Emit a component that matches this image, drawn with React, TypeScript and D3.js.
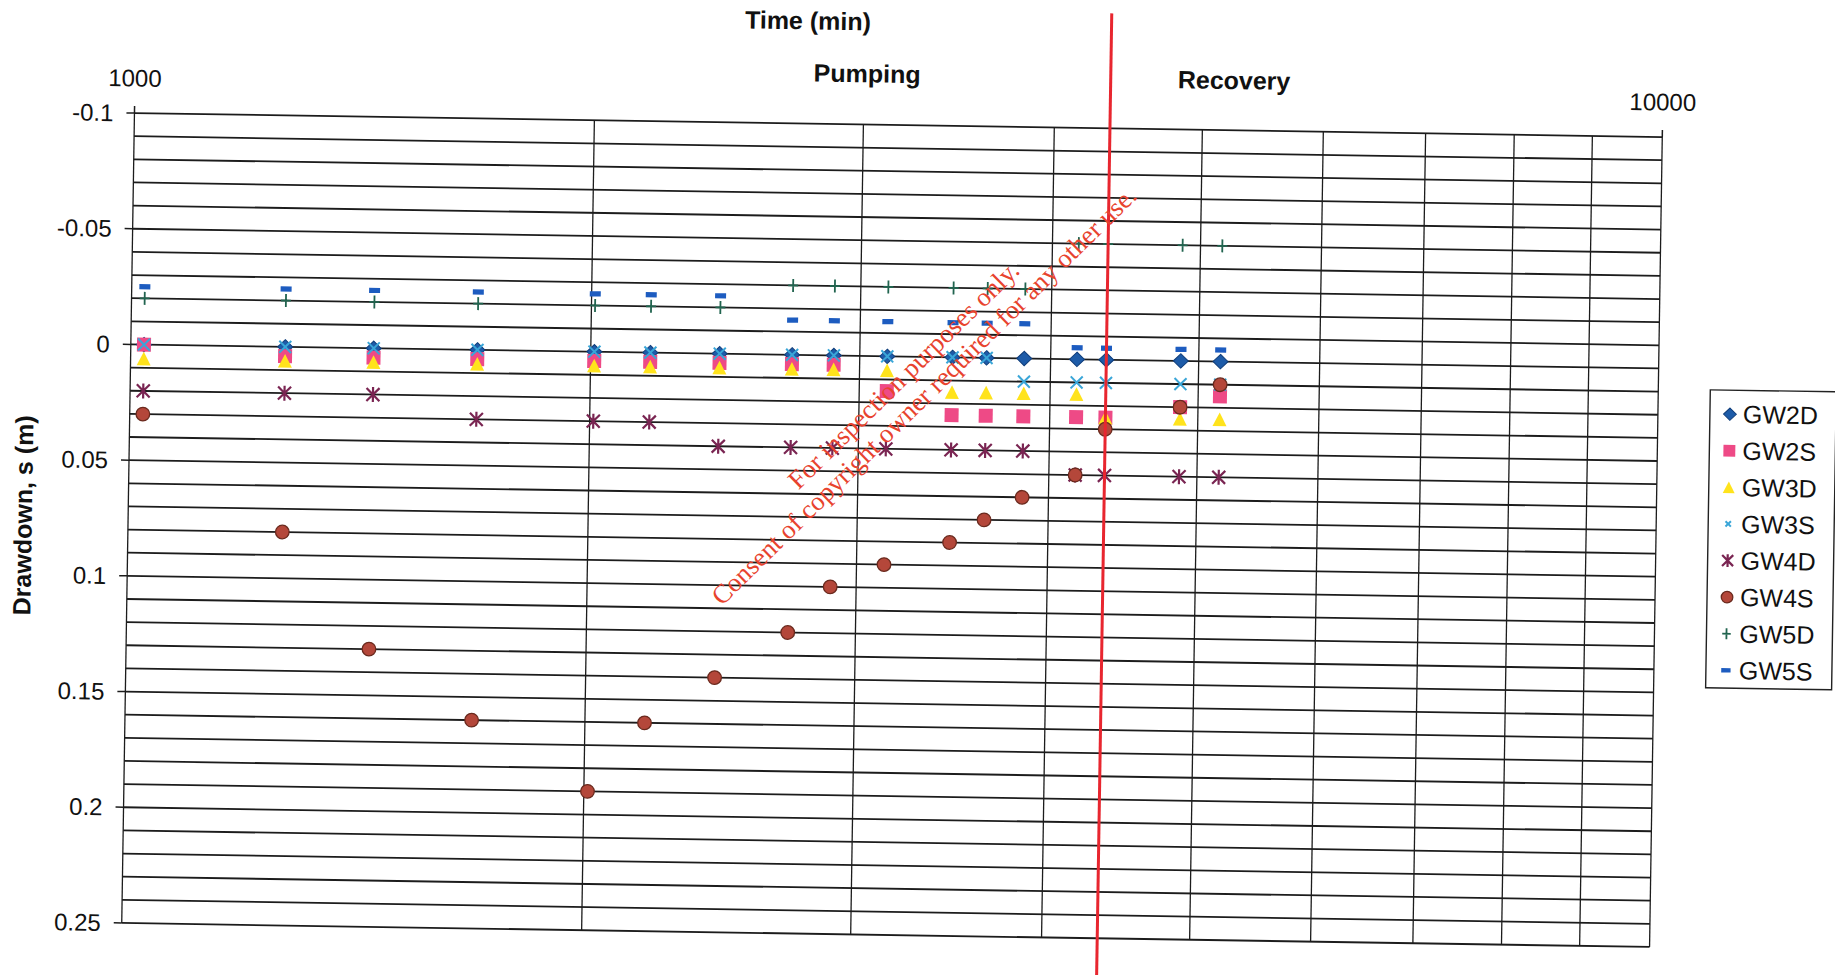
import React from 'react';
import * as d3 from 'd3';

// Elapsed time of each reading (min)
const timeMin = [1020, 1262, 1442, 1686, 2011, 2188, 2429, 2709, 2885, 3127, 3450, 3632, 3844, 4162, 4350, 4867, 5167];

// Drawdown per well (m); negative = water level above static
const gw2d = [0, 0, 0, 0, 0, 0, 0, 0, 0, 0, 0, 0, 0, 0, 0, 0, 0];
const gw2s = [0, 0.004, 0.004, 0.004, 0.004, 0.004, 0.004, 0.004, 0.004, 0.015, 0.025, 0.025, 0.025, 0.025, 0.025, 0.02, 0.015];
const gw3d = [0.006, 0.006, 0.006, 0.006, 0.006, 0.006, 0.006, 0.006, 0.006, 0.006, 0.015, 0.015, 0.015, 0.015, 0.025, 0.025, 0.025];
const gw3s = [0, 0, 0, 0, 0, 0, 0, 0, 0, 0, 0, 0, 0.01, 0.01, 0.01, 0.01, 0.01];
const gw4d = [0.02, 0.02, 0.02, 0.03, 0.03, 0.03, 0.04, 0.04, 0.04, 0.04, 0.04, 0.04, 0.04, 0.05, 0.05, 0.05, 0.05];
const gw4s = [0.03, 0.08, 0.13, 0.16, 0.19, 0.16, 0.14, 0.12, 0.1, 0.09, 0.08, 0.07, 0.06, 0.05, 0.03, 0.02, 0.01];
const gw5d = [-0.02, -0.02, -0.02, -0.02, -0.02, -0.02, -0.02, -0.03, -0.03, -0.03, -0.03, -0.03, -0.03, -0.05, -0.05, -0.05, -0.05];
const gw5s = [-0.025, -0.025, -0.025, -0.025, -0.025, -0.025, -0.025, -0.015, -0.015, -0.015, -0.015, -0.015, -0.015, -0.005, -0.005, -0.005, -0.005];

// Pump switched off (min)
const pumpingStopMin = 4350;

const xTickValues = [1000, 10000];
const yTickValues = [-0.1, -0.05, 0, 0.05, 0.1, 0.15, 0.2, 0.25];

type Shape = 'diamond' | 'square' | 'triangle' | 'cross' | 'star' | 'circle' | 'plus' | 'dash';

const series: { name: string; values: number[]; shape: Shape; color: string; edge?: string }[] = [
  { name: 'GW2D', values: gw2d, shape: 'diamond', color: '#1d5ba8', edge: '#0f3d7a' },
  { name: 'GW2S', values: gw2s, shape: 'square', color: '#ee4a86' },
  { name: 'GW3D', values: gw3d, shape: 'triangle', color: '#ffe31c' },
  { name: 'GW3S', values: gw3s, shape: 'cross', color: '#3aa6d8' },
  { name: 'GW4D', values: gw4d, shape: 'star', color: '#7a2552' },
  { name: 'GW4S', values: gw4s, shape: 'circle', color: '#b4473a', edge: '#6a2a1e' },
  { name: 'GW5D', values: gw5d, shape: 'plus', color: '#21644f' },
  { name: 'GW5S', values: gw5s, shape: 'dash', color: '#1d5cc0' },
];

const W = 1835;
const H = 975;
const plot = { left: 128, right: 1656, top: 125, bottom: 935 };
const tiltDeg = 0.9;
const pivot = { x: 892, y: 530 };
const sans = '"Liberation Sans", Arial, sans-serif';

function Marker({ shape, cx, cy, color, edge, s = 1 }: { shape: Shape; cx: number; cy: number; color: string; edge?: string; s?: number }) {
  switch (shape) {
    case 'diamond': {
      const w = 7.5 * s, h = 7.2 * s;
      return <path d={`M${cx},${cy - h}L${cx + w},${cy}L${cx},${cy + h}L${cx - w},${cy}Z`} fill={color} stroke={edge} strokeWidth={1} />;
    }
    case 'square': {
      const a = 7 * s;
      return <rect x={cx - a} y={cy - a} width={2 * a} height={2 * a} fill={color} />;
    }
    case 'triangle': {
      const w = 7 * s, h = 6.8 * s;
      return <path d={`M${cx},${cy - h}L${cx + w},${cy + h}L${cx - w},${cy + h}Z`} fill={color} />;
    }
    case 'cross': {
      const a = 6 * s;
      return <path d={`M${cx - a},${cy - a}L${cx + a},${cy + a}M${cx - a},${cy + a}L${cx + a},${cy - a}`} stroke={color} strokeWidth={2} fill="none" />;
    }
    case 'star': {
      const a = 6.5 * s, b = 7.5 * s;
      return <path d={`M${cx - a},${cy - a}L${cx + a},${cy + a}M${cx - a},${cy + a}L${cx + a},${cy - a}M${cx},${cy - b}L${cx},${cy + b}`} stroke={color} strokeWidth={2.2} fill="none" />;
    }
    case 'circle':
      return <circle cx={cx} cy={cy} r={6.8 * s} fill={color} stroke={edge} strokeWidth={1.3} />;
    case 'plus': {
      const a = 5 * s, b = 6.5 * s;
      return <path d={`M${cx - a},${cy}L${cx + a},${cy}M${cx},${cy - b}L${cx},${cy + b}`} stroke={color} strokeWidth={1.8} fill="none" />;
    }
    case 'dash': {
      const w = 5.5 * s, h = 2.6 * s;
      return <rect x={cx - w} y={cy - h} width={2 * w} height={2 * h} fill={color} />;
    }
  }
  return null;
}

export default function App() {
  const x = d3.scaleLog().domain([1000, 10000]).range([plot.left, plot.right]);
  const y = d3.scaleLinear().domain([-0.1, 0.25]).range([plot.top, plot.bottom]);
  const xGrid = x.ticks();
  const yGrid = y.ticks(35);

  const legend = { x: 1708, y: 377, w: 126, h: 298, row0: 401, step: 36.6 };

  return (
    <svg width={W} height={H} style={{ position: 'absolute', left: 0, top: 0, background: '#fff' }}>
      <rect width={W} height={H} fill="#fff" />
      <g transform={`rotate(${tiltDeg},${pivot.x},${pivot.y})`} fontFamily={sans} fill="#111">
        {/* horizontal grid every 0.01 m */}
        {yGrid.map((v, i) => (
          <line key={`h${i}`} x1={plot.left} x2={plot.right} y1={y(v)} y2={y(v)} stroke="#1c1c1c" strokeWidth={1.8} />
        ))}
        {/* log-cycle vertical grid */}
        {xGrid.map((t, i) => (
          <line key={`v${i}`} x1={x(t)} x2={x(t)} y1={plot.top} y2={plot.bottom} stroke="#1c1c1c" strokeWidth={1.3} />
        ))}
        {/* axis ticks */}
        {yTickValues.map((v, i) => (
          <line key={`yt${i}`} x1={plot.left - 8} x2={plot.left} y1={y(v)} y2={y(v)} stroke="#1c1c1c" strokeWidth={1.5} />
        ))}
        {xTickValues.map((t, i) => (
          <line key={`xt${i}`} x1={x(t)} x2={x(t)} y1={plot.top - 7} y2={plot.top} stroke="#1c1c1c" strokeWidth={1.5} />
        ))}
        {yTickValues.map((v, i) => (
          <text key={`yl${i}`} x={plot.left - 21} y={y(v)} dy="0.35em" textAnchor="end" fontSize={24}>{String(v)}</text>
        ))}
        {xTickValues.map((t, i) => (
          <text key={`xl${i}`} x={x(t)} y={plot.top - 35} dy="0.35em" textAnchor="middle" fontSize={24}>{String(t)}</text>
        ))}

        <text x={800} y={22} dy="0.35em" textAnchor="middle" fontSize={25} fontWeight={700}>Time (min)</text>
        <text x={860} y={74} dy="0.35em" textAnchor="middle" fontSize={25} fontWeight={700}>Pumping</text>
        <text x={1227} y={75} dy="0.35em" textAnchor="middle" fontSize={25} fontWeight={700}>Recovery</text>
        <text transform="translate(23,529) rotate(-90)" dy="0.35em" textAnchor="middle" fontSize={25} fontWeight={700}>Drawdown,  s (m)</text>

        {/* observations */}
        {series.map((sr) => (
          <g key={sr.name}>
            {sr.values.map((v, i) => (
              <Marker key={i} shape={sr.shape} cx={x(timeMin[i])} cy={y(v)} color={sr.color} edge={sr.edge} />
            ))}
          </g>
        ))}

        {/* end of pumping */}
        <line x1={x(pumpingStopMin)} x2={x(pumpingStopMin)} y1={10} y2={975} stroke="#e8262f" strokeWidth={3} />

        {/* legend */}
        <rect x={legend.x} y={legend.y} width={legend.w} height={legend.h} fill="#fff" stroke="#222" strokeWidth={1.4} />
        {series.map((sr, i) => {
          const cy = legend.row0 + i * legend.step;
          return (
            <g key={`lg${sr.name}`}>
              <Marker shape={sr.shape} cx={1728} cy={cy} color={sr.color} edge={sr.edge} s={sr.shape === 'cross' ? 0.45 : 0.85} />
              <text x={1741} y={cy} dy="0.35em" fontSize={25}>{sr.name}</text>
            </g>
          );
        })}
      </g>

      {/* document stamp */}
      <g transform="translate(930,402) rotate(-44.5)" fontFamily='"Liberation Serif", "Times New Roman", serif' fontSize={26.5} fill="#e8432e" textAnchor="middle">
        <text x={0} y={-29}>For inspection purposes only.</text>
        <text x={0} y={0}>Consent of copyright owner required for any other use.</text>
      </g>
    </svg>
  );
}
